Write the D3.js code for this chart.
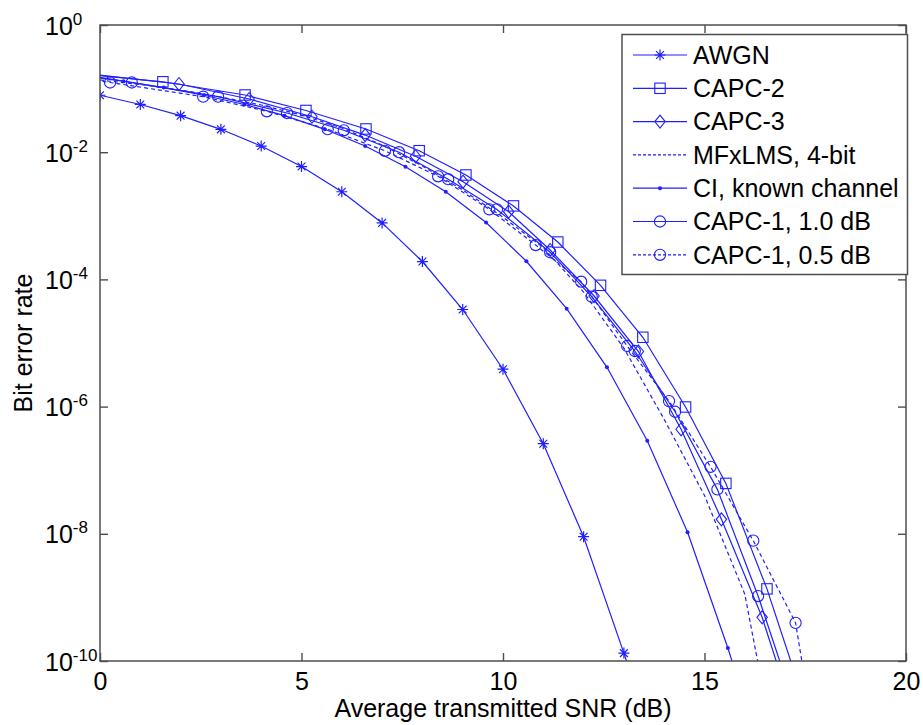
<!DOCTYPE html>
<html><head><meta charset="utf-8">
<script src="https://cdn.jsdelivr.net/npm/d3@7"></script>
<style>
html,body{margin:0;padding:0;background:#fff;}
text{font-family:"Liberation Sans",Arial,Helvetica,sans-serif;fill:#000;}
</style></head>
<body>
<svg id="chart" width="923" height="725"></svg>
<script>
// ---- data ----
const xTicks = [0, 5, 10, 15, 20];
const yTickExps = [0, -2, -4, -6, -8, -10];
const xLabel = "Average transmitted SNR (dB)";
const yLabel = "Bit error rate";

const awgnX = [0,1,2,3,4,5,6,7,8,9,10,11,12,13,14];
const awgnY = [7.86e-2,5.63e-2,3.75e-2,2.29e-2,1.25e-2,5.95e-3,2.39e-3,7.73e-4,1.91e-4,3.36e-5,3.87e-6,2.61e-7,9.0e-9,1.33e-10,1.6e-12];

const capc2X = [-0.5,1.56,3.60,5.11,6.60,7.92,9.08,10.26,11.36,12.42,13.47,14.53,15.53,16.55,17.6];
const capc2Y = [0.171,0.128,0.0793,0.0453,0.0232,0.01056,4.38e-3,1.43e-3,3.87e-4,8.07e-5,1.23e-5,9.86e-7,6.2e-8,1.36e-9,1.3e-11];

const capc3X = [-0.2,1.96,3.70,5.26,6.58,7.83,9.01,10.14,11.17,12.26,13.36,14.42,15.42,16.43,17.4];
const capc3Y = [0.168,0.118,0.0686,0.0361,0.0186,8.63e-3,3.44e-3,1.16e-3,2.9e-4,5.48e-5,7.35e-6,4.4e-7,1.69e-8,4.86e-10,6e-12];

const mfxX = [0,1,2,3,4,5,6,7,8,9,10,11,12,13,14,15,16,16.5];
const mfxY = [0.1365,0.116,0.095,0.0738,0.0552,0.0385,0.024,0.013,6.07e-3,2.55e-3,9.5e-4,3.16e-4,6.3e-5,8.3e-6,6.3e-7,4.0e-8,1.12e-9,2.5e-11];

const ciX = [-0.42,0.58,1.58,2.58,3.58,4.58,5.58,6.58,7.58,8.58,9.58,10.58,11.58,12.58,13.58,14.58,15.58,16.58];
const ciY = [0.1584,0.1307,0.1038,0.0786,0.0563,0.0375,0.0229,1.25e-2,5.9e-3,2.39e-3,7.85e-4,1.93e-4,3.46e-5,4.15e-6,2.9e-7,1.06e-8,1.6e-10,1.6e-12];

const capc1aX = [-1.4,0.79,2.93,4.64,6.05,7.42,8.64,9.85,11.17,12.2,13.27,14.27,15.32,16.33,17.3];
const capc1aY = [0.21,0.1247,0.0746,0.0413,0.0221,0.0100,3.76e-3,1.26e-3,2.67e-4,5.35e-5,7.48e-6,8.3e-7,5.0e-8,1.05e-9,1.5e-11];

const capc1bX = [-2.0,0.25,2.56,4.14,5.65,7.07,8.39,9.66,10.81,11.94,13.08,14.12,15.15,16.21,17.26,17.75];
const capc1bY = [0.2,0.1247,0.0746,0.0440,0.0230,0.01052,4.18e-3,1.265e-3,3.47e-4,9.2e-5,8.97e-6,1.22e-6,1.13e-7,7.8e-9,3.98e-10,5e-12];

const seriesNames = ["AWGN","CAPC-2","CAPC-3","MFxLMS, 4-bit","CI, known channel","CAPC-1, 1.0 dB","CAPC-1, 0.5 dB"];
const seriesMarkers = ["star","square","diamond","none","dot","circle","circle"];
const seriesDashed = [false,false,false,true,false,false,true];
const seriesX = [awgnX,capc2X,capc3X,mfxX,ciX,capc1aX,capc1bX];
const seriesY = [awgnY,capc2Y,capc3Y,mfxY,ciY,capc1aY,capc1bY];

// ---- layout ----
const L = 100, R = 906, T = 25, B = 661;
const BLUE = "#1f1fff";
const AXC = "#4d4d4d";

const svg = d3.select("#chart");
const x = d3.scaleLinear().domain([0,20]).range([L,R]);
const y = d3.scaleLog().domain([1e-10,1]).range([B,T]);

svg.append("defs").append("clipPath").attr("id","clip")
  .append("rect").attr("x",L).attr("y",T).attr("width",R-L).attr("height",B-T);

function drawMarker(g, type, cx, cy, legend) {
  const s = 5.2;
  if (type === "square") {
    g.append("rect").attr("x",cx-s).attr("y",cy-s).attr("width",2*s).attr("height",2*s)
      .attr("fill","none").attr("stroke",BLUE).attr("stroke-width",1.1);
  } else if (type === "circle") {
    g.append("circle").attr("cx",cx).attr("cy",cy).attr("r",5.6)
      .attr("fill","none").attr("stroke",BLUE).attr("stroke-width",1.1);
  } else if (type === "diamond") {
    g.append("path").attr("d",`M${cx},${cy-6.5}L${cx+5.2},${cy}L${cx},${cy+6.5}L${cx-5.2},${cy}Z`)
      .attr("fill","none").attr("stroke",BLUE).attr("stroke-width",1.1);
  } else if (type === "dot") {
    g.append("circle").attr("cx",cx).attr("cy",cy).attr("r",2)
      .attr("fill",BLUE).attr("stroke","none");
  } else if (type === "star") {
    const a = 5.5, d = 3.9;
    g.append("path").attr("d",
      `M${cx-a},${cy}L${cx+a},${cy}M${cx},${cy-a}L${cx},${cy+a}` +
      `M${cx-d},${cy-d}L${cx+d},${cy+d}M${cx-d},${cy+d}L${cx+d},${cy-d}`)
      .attr("fill","none").attr("stroke",BLUE).attr("stroke-width",1.2);
  }
}

// ---- data lines ----
const plot = svg.append("g").attr("clip-path","url(#clip)");
const line = d3.line().x(d => x(d[0])).y(d => y(d[1]));
seriesX.forEach((xs, i) => {
  const pts = xs.map((v, j) => [v, seriesY[i][j]]);
  plot.append("path").datum(pts).attr("d", line)
    .attr("fill","none").attr("stroke",BLUE).attr("stroke-width",1.2)
    .attr("stroke-dasharray", seriesDashed[i] ? "4,3" : null);
  if (seriesMarkers[i] !== "none") {
    pts.forEach(p => drawMarker(plot, seriesMarkers[i], x(p[0]), y(p[1]), false));
  }
});

// ---- axes ----
const axStyle = g => {
  g.selectAll("path,line").attr("stroke",AXC).attr("stroke-width",1.4);
  g.select(".domain").remove();
};
const yTickVals = yTickExps.map(e => Math.pow(10,e));

svg.append("g").attr("transform",`translate(0,${B})`)
  .call(d3.axisBottom(x).tickValues(xTicks).tickSize(-8).tickSizeOuter(0).tickPadding(11).tickFormat(d3.format("d")))
  .call(axStyle)
  .call(g => g.selectAll("text").attr("font-size",25).attr("fill","#000")
     .attr("font-family","'Liberation Sans',Arial,sans-serif"));
svg.append("g").attr("transform",`translate(0,${T})`)
  .call(d3.axisTop(x).tickValues(xTicks).tickSize(-8).tickSizeOuter(0).tickFormat(""))
  .call(axStyle);
svg.append("g").attr("transform",`translate(${L},0)`)
  .call(d3.axisLeft(y).tickValues(yTickVals).tickSize(-8).tickSizeOuter(0).tickFormat(""))
  .call(axStyle);
svg.append("g").attr("transform",`translate(${R},0)`)
  .call(d3.axisRight(y).tickValues(yTickVals).tickSize(-8).tickSizeOuter(0).tickFormat(""))
  .call(axStyle);

svg.append("rect").attr("x",L).attr("y",T).attr("width",R-L).attr("height",B-T)
  .attr("fill","none").attr("stroke",AXC).attr("stroke-width",1.5);

// y tick labels with superscript exponents
yTickExps.forEach(e => {
  const yy = y(Math.pow(10,e));
  const t = svg.append("text").attr("x",45).attr("y",yy+9.5).attr("font-size",25);
  t.append("tspan").text("10");
  t.append("tspan").attr("font-size",17).attr("dy",-10).text(String(e));
});

// axis labels
svg.append("text").attr("x",(L+R)/2).attr("y",717).attr("text-anchor","middle")
  .attr("font-size",25).text(xLabel);
svg.append("text").attr("transform",`translate(32,${(T+B)/2}) rotate(-90)`)
  .attr("text-anchor","middle").attr("font-size",25).text(yLabel);

// ---- legend ----
const lg = svg.append("g");
lg.append("rect").attr("x",622).attr("y",34.5).attr("width",285.5).attr("height",240)
  .attr("fill","#fff").attr("stroke",AXC).attr("stroke-width",1.5);
seriesNames.forEach((name, i) => {
  const cy = 55 + i * 33.3;
  lg.append("line").attr("x1",633).attr("x2",687).attr("y1",cy).attr("y2",cy)
    .attr("stroke",BLUE).attr("stroke-width",1.2)
    .attr("stroke-dasharray", seriesDashed[i] ? "3,2" : null);
  if (seriesMarkers[i] !== "none") drawMarker(lg, seriesMarkers[i], 660, cy, true);
  lg.append("text").attr("x",693).attr("y",cy+8.7).attr("font-size",25).text(name);
});
</script>
</body></html>
